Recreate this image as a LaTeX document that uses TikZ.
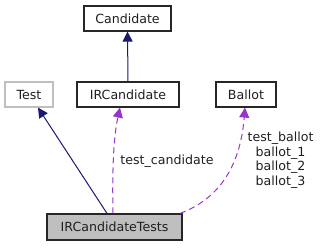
\documentclass[tikz,border=0pt]{standalone}
\usepackage{fontspec}
\setmainfont{DejaVu Sans}
\usetikzlibrary{arrows.meta}
\definecolor{navyline}{HTML}{191970}
\definecolor{orchid}{HTML}{9A32CD}
\definecolor{grayfill}{HTML}{BFBFBF}
\definecolor{lightborder}{HTML}{BFBFBF}
\begin{document}
\begin{tikzpicture}[x=1pt,y=-1pt,
  every node/.style={font=\fontsize{12.6}{14.6}\selectfont, inner sep=0pt, text=black!88},
  classbox/.style={draw=black!85, line width=1.2pt, fill=white, minimum height=25pt},
  extbox/.style={draw=lightborder, line width=1.2pt, fill=white, minimum height=25pt},
  inherit/.style={draw=navyline, line width=1pt, -{Triangle[length=10pt,width=10pt]}, color=navyline},
  usage/.style={draw=orchid, line width=1pt, dash pattern=on 6pt off 4pt, -{Triangle[length=10pt,width=10pt]}, color=orchid},
  edgelabel/.style={align=center, text=black!88}]
\useasboundingbox (0,0) rectangle (321,247);

\node[classbox, minimum width=87pt] (cand) at (127.5,18.5) {Candidate};
\node[extbox, minimum width=48pt] (test) at (29,94.5) {Test};
\node[classbox, minimum width=102pt] (ircand) at (128,94.5) {IRCandidate};
\node[classbox, minimum width=60pt] (ballot) at (246,94.5) {Ballot};
\node[classbox, fill=grayfill, minimum width=135pt, minimum height=26pt] (irct) at (114.5,227) {IRCandidateTests};

% inheritance
\draw[inherit] (ircand.north) -- (cand.south);
\draw[inherit] ([xshift=-7.5pt]irct.north) -- ([xshift=9pt]test.south);

% member usage
\draw[usage] ([xshift=-1.5pt]irct.north) .. controls (112,165) and (114,135) .. ([xshift=-8pt]ircand.south);
\draw[usage] ([xshift=65.5pt]irct.north) .. controls (216,200) and (240,170) .. ([xshift=-1pt]ballot.south);

\node[edgelabel] (lcand) at (167,161) {test\_candidate};
\node[edgelabel] (lballot) at (280.5,160) {test\_ballot\\ballot\_1\\ballot\_2\\ballot\_3};
\end{tikzpicture}
\end{document}
